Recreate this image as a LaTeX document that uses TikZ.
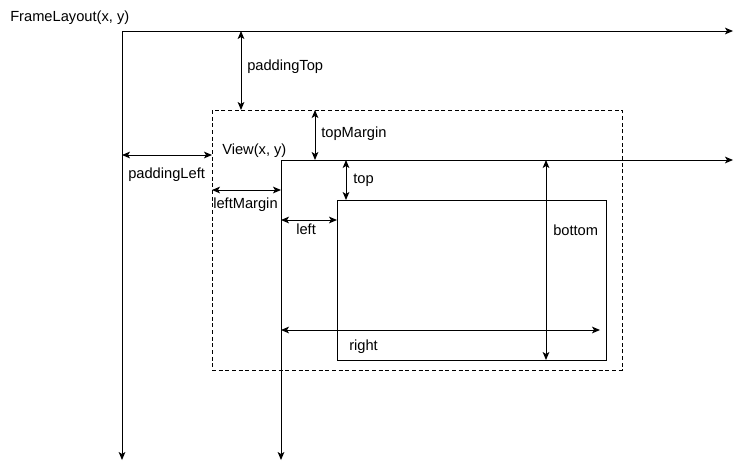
\documentclass[tikz,border=0pt]{standalone}
\usepackage{fontspec}
\setmainfont{Liberation Sans}
\usetikzlibrary{arrows.meta}

\begin{document}
\begin{tikzpicture}[x=0.75pt, y=-0.75pt,
  axis/.style={-{Stealth[length=6pt, width=5pt, inset=1.5pt]}, line width=0.7pt},
  dim/.style={{Stealth[length=6pt, width=5pt, inset=1.5pt]}-{Stealth[length=6pt, width=5pt, inset=1.5pt]}, line width=0.7pt},
  box/.style={draw, line width=0.7pt},
  marginbox/.style={draw, line width=0.6pt, dash pattern=on 3pt off 2pt},
  lbl/.style={font=\fontsize{11}{13}\selectfont, inner sep=0pt, anchor=west}
]
  \useasboundingbox (0,0) rectangle (741,469);

  % frame and view origins
  \coordinate (fo) at (122,31);
  \coordinate (fx) at (733,31);
  \coordinate (fy) at (122,460);
  \coordinate (vo) at (281,160);
  \coordinate (vx) at (733,160);
  \coordinate (vy) at (281,460);

  % margin box and child box
  \coordinate (m1) at (212,110);
  \coordinate (m2) at (622,370);
  \coordinate (c1) at (337,200);
  \coordinate (c2) at (606,360);

  \draw[marginbox] (m1) rectangle (m2);
  \draw[box] (c1) rectangle (c2);

  \draw[axis] (fo) -- (fx);
  \draw[axis] (fo) -- (fy);
  \draw[axis] (vo) -- (vx);
  \draw[axis] (vo) -- (vy);

  % dimension end points
  \coordinate (pt1) at (241,31);
  \coordinate (pt2) at (241,110);
  \coordinate (pl1) at (122,155);
  \coordinate (pl2) at (212,155);
  \coordinate (tm1) at (315,110);
  \coordinate (tm2) at (315,160);
  \coordinate (lm1) at (212,190);
  \coordinate (lm2) at (281,190);
  \coordinate (tp1) at (346,160);
  \coordinate (tp2) at (346,200);
  \coordinate (lf1) at (281,220);
  \coordinate (lf2) at (337,220);
  \coordinate (bt1) at (546,160);
  \coordinate (bt2) at (546,360);
  \coordinate (rt1) at (281,330);
  \coordinate (rt2) at (600,330);

  \draw[dim] (pt1) -- (pt2);
  \draw[dim] (pl1) -- (pl2);
  \draw[dim] (tm1) -- (tm2);
  \draw[dim] (lm1) -- (lm2);
  \draw[dim] (tp1) -- (tp2);
  \draw[dim] (lf1) -- (lf2);
  \draw[dim] (bt1) -- (bt2);
  \draw[dim] (rt1) -- (rt2);

  % labels
  \node[lbl] (frame) at (10,18) {FrameLayout(x, y)};
  \node[lbl] (view) at (222,151) {View(x, y)};
  \node[lbl] (ptop) at (247,67) {paddingTop};
  \node[lbl] (pleft) at (128,175) {paddingLeft};
  \node[lbl] (tmargin) at (321,134) {topMargin};
  \node[lbl] (lmargin) at (213,205) {leftMargin};
  \node[lbl] (top) at (353,180) {top};
  \node[lbl] (left) at (296,229) {left};
  \node[lbl] (bottom) at (553,230) {bottom};
  \node[lbl] (right) at (349,347) {right};
\end{tikzpicture}
\end{document}
